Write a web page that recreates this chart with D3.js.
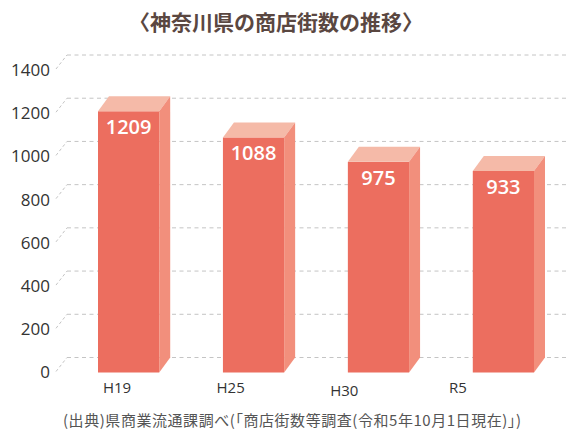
<!DOCTYPE html>
<html>
<head>
<meta charset="utf-8">
<script src="https://cdn.jsdelivr.net/npm/d3@7"></script>
<style>
  html, body { margin: 0; padding: 0; background: #fff; }
  svg { display: block; }
</style>
</head>
<body>
<div class="chart"></div>
<script>
var categories = ["H19", "H25", "H30", "R5"];
var values = [1209, 1088, 975, 933];
var yTicks = [0, 200, 400, 600, 800, 1000, 1200, 1400];
var title = "〈神奈川県の商店街数の推移〉";
var source = "(出典)県商業流通課調べ(「商店街数等調査(令和5年10月1日現在)」)";

var W = 573, H = 432;
var depthX = 11, depthY = 15;   // 3D offset of the back wall
var jp = "'Noto Sans CJK JP', 'Noto Sans', sans-serif";
var num = "'Open Sans', 'Noto Sans', sans-serif";

/**
 * Scales (back wall y, bars x)
 */
var yBack = d3.scaleLinear()
              .domain([0, 1400])
              .range([357.5, 55]);

var xScale = d3.scaleBand()
               .domain(categories)
               .range([98, 534])
               .paddingInner(0.51)
               .paddingOuter(0);

// category labels sit a little left of the bars in the original
var xLabel = d3.scalePoint()
               .domain(categories)
               .range([117, 458]);

var svg = d3.select(".chart")
            .append("svg")
            .attr("width", W)
            .attr("height", H);

/**
 * Title
 */
svg.append("text")
   .attr("x", 276)
   .attr("y", 30)
   .attr("text-anchor", "middle")
   .style("font-family", jp)
   .style("font-weight", "bold")
   .style("font-size", "21px")
   .style("fill", "#5a4741")
   .text(title);

/**
 * Grid lines on the back wall, with the little diagonal to the labels
 */
var grid = svg.append("g")
              .style("stroke", "#c4c4c4")
              .style("stroke-width", 1)
              .style("stroke-dasharray", "4,3.5")
              .style("fill", "none");

grid.selectAll("line.h")
    .data(yTicks)
    .enter()
    .append("line")
    .attr("class", "h")
    .attr("x1", 67)
    .attr("x2", 566)
    .attr("y1", function(d) { return yBack(d); })
    .attr("y2", function(d) { return yBack(d); });

grid.selectAll("line.d")
    .data(yTicks)
    .enter()
    .append("line")
    .attr("class", "d")
    .attr("x1", 56)
    .attr("x2", 67)
    .attr("y1", function(d) { return yBack(d) + depthY - 1; })
    .attr("y2", function(d) { return yBack(d); })
    .style("stroke-dasharray", "3,2.5");

svg.append("g")
   .selectAll("text")
   .data(yTicks)
   .enter()
   .append("text")
   .attr("x", 50)
   .attr("y", function(d) { return yBack(d) + depthY; })
   .attr("dy", "0.35em")
   .attr("text-anchor", "end")
   .style("font-family", num)
   .style("font-size", "17px")
   .style("fill", "#333")
   .text(function(d) { return d; });

/**
 * Bars: front, top and side faces
 */
var bars = svg.selectAll("g.bar")
              .data(values)
              .enter()
              .append("g")
              .attr("class", "bar");

var bw = xScale.bandwidth();
var base = yBack(0) + depthY;

bars.append("rect")
    .attr("x", function(d, i) { return xScale(categories[i]); })
    .attr("y", function(d) { return yBack(d) + depthY; })
    .attr("width", bw)
    .attr("height", function(d) { return base - yBack(d) - depthY; })
    .style("fill", "#ec6e5f");

bars.append("path")
    .attr("d", function(d, i) {
      var x = xScale(categories[i]), t = yBack(d) + depthY;
      return "M" + x + "," + t +
             "L" + (x + depthX) + "," + (t - depthY) +
             "L" + (x + bw + depthX) + "," + (t - depthY) +
             "L" + (x + bw) + "," + t + "Z";
    })
    .style("fill", "#f5baa8");

bars.append("path")
    .attr("d", function(d, i) {
      var x = xScale(categories[i]) + bw, t = yBack(d) + depthY;
      return "M" + x + "," + t +
             "L" + (x + depthX) + "," + (t - depthY) +
             "L" + (x + depthX) + "," + (base - depthY) +
             "L" + x + "," + base + "Z";
    })
    .style("fill", "#f28f7c");

bars.append("text")
    .attr("x", function(d, i) { return xScale(categories[i]) + bw / 2; })
    .attr("y", function(d) { return yBack(d) + depthY + 16; })
    .attr("dy", "0.35em")
    .attr("text-anchor", "middle")
    .style("font-family", num)
    .style("font-weight", 600)
    .style("font-size", "20px")
    .style("fill", "#fff")
    .text(function(d) { return d; });

/**
 * Category labels and source note
 */
svg.append("g")
   .selectAll("text")
   .data(categories)
   .enter()
   .append("text")
   .attr("x", function(d) { return xLabel(d); })
   .attr("y", function(d) { return d === "H30" ? 391 : 388; })
   .attr("dy", "0.35em")
   .attr("text-anchor", "middle")
   .style("font-family", num)
   .style("font-size", "15px")
   .style("fill", "#333")
   .text(function(d) { return d; });

svg.append("text")
   .attr("x", 292)
   .attr("y", 421)
   .attr("dy", "0.35em")
   .attr("text-anchor", "middle")
   .attr("textLength", 458)
   .attr("lengthAdjust", "spacing")
   .style("font-family", jp)
   .style("font-size", "15px")
   .style("fill", "#555")
   .text(source);
</script>
</body>
</html>
